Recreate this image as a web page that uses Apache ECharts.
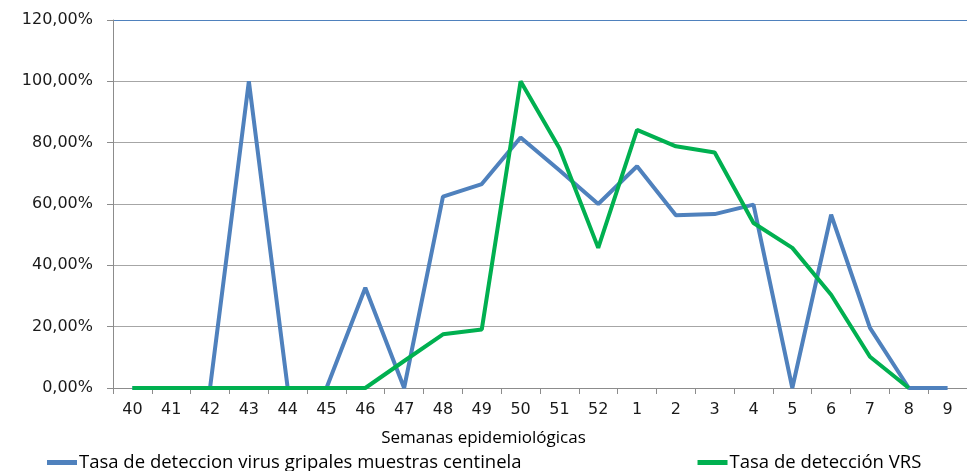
<!DOCTYPE html>
<html><head><meta charset="utf-8">
<script src="https://cdn.jsdelivr.net/npm/echarts@6/dist/echarts.min.js"></script>
<style>html,body{margin:0;padding:0;background:#fff}#c{width:967px;height:471px}</style>
</head><body><div id="c"></div>
<script>
const categories = ['40','41','42','43','44','45','46','47','48','49','50','51','52','1','2','3','4','5','6','7','8','9'];
const gripales = [0,0,0,100,0,0,32.7,0,62.4,66.5,81.7,71,60,72.3,56.3,56.7,59.8,0,56.5,19.6,0,0];
const vrs = [0,0,0,0,0,0,0,8.8,17.5,19.1,100,78.2,45.7,84.2,78.8,76.8,53.8,45.7,30.4,10.2,0,null];
const seriesNames = ['Tasa de deteccion virus gripales muestras centinela','Tasa de detección VRS'];
const xAxisTitle = 'Semanas epidemiológicas';
const yTicks = {min:0,max:120,interval:20};

const chart = echarts.init(document.getElementById('c'));
const gridColors = ['#a6a6a6','#a6a6a6','#a6a6a6','#a6a6a6','#a6a6a6','#a6a6a6','#4f81bd'];
chart.setOption({
  animation:false,
  textStyle:{fontFamily:'DejaVu Sans'},
  grid:{left:113,right:0,top:20,bottom:83},
  title:{text:xAxisTitle,left:'center',top:425,textStyle:{fontFamily:'Open Sans',fontSize:17,fontWeight:'normal',color:'#000'}},
  legend:{
    bottom:-6,left:42,itemGap:176,itemWidth:30,itemHeight:5,icon:'rect',
    textStyle:{fontFamily:'Open Sans',fontSize:18.5,color:'#000',padding:[0,0,0,-3]},
    data:seriesNames
  },
  xAxis:{
    type:'category',data:categories,boundaryGap:true,
    axisLine:{lineStyle:{color:'#8c8c8c',width:1}},
    axisTick:{show:true,length:6,lineStyle:{color:'#8c8c8c'}},
    axisLabel:{fontSize:16,color:'#1a1a1a',margin:14}
  },
  yAxis:{
    type:'value',min:yTicks.min,max:yTicks.max,interval:yTicks.interval,
    axisLine:{show:true,lineStyle:{color:'#8c8c8c'}},
    axisTick:{show:true,length:6,lineStyle:{color:'#8c8c8c'}},
    axisLabel:{fontSize:16,color:'#1a1a1a',margin:20,formatter:v=>v.toFixed(2).replace('.',',')+'%'},
    splitLine:{lineStyle:{color:gridColors,width:1}}
  },
  series:[
    {name:seriesNames[0],type:'line',data:gripales,symbol:'none',lineStyle:{color:'#4f81bd',width:4},itemStyle:{color:'#4f81bd'}},
    {name:seriesNames[1],type:'line',data:vrs,symbol:'none',lineStyle:{color:'#00b050',width:4},itemStyle:{color:'#00b050'}}
  ]
});
</script></body></html>
